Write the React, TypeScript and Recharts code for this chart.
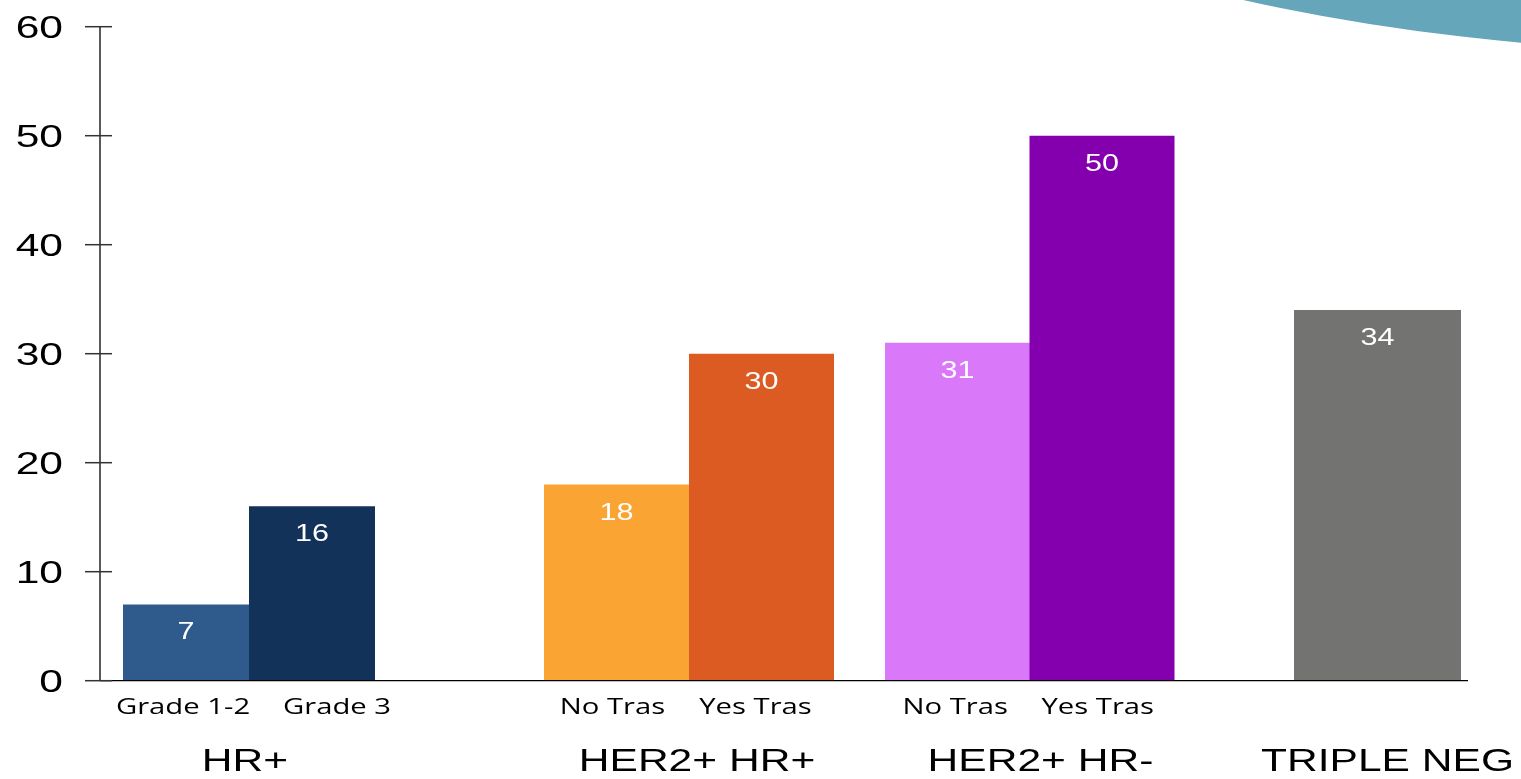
import React from "react";
import { BarChart, Bar, XAxis, YAxis, Cell, LabelList } from "recharts";

// Tumour subtype groups and the bars within each group
const groups = ["HR+", "HER2+ HR+", "HER2+ HR-", "TRIPLE NEG"];

const hrLabels = ["Grade 1-2", "Grade 3"];
const hrValues = [7, 16];

const her2HrPosLabels = ["No Tras", "Yes Tras"];
const her2HrPosValues = [18, 30];

const her2HrNegLabels = ["No Tras", "Yes Tras"];
const her2HrNegValues = [31, 50];

const tripleNegLabels = [""];
const tripleNegValues = [34];

const yTicks = [0, 10, 20, 30, 40, 50, 60];

const hrColors = ["#2E5A8C", "#12325A"];
const her2HrPosColors = ["#FAA533", "#DC5B22"];
const her2HrNegColors = ["#DA78FA", "#8400AE"];
const tripleNegColors = ["#737372"];

const ARIAL = "'Liberation Sans', Arial, sans-serif";
const SANS = "'Open Sans', 'Noto Sans', sans-serif";
const STRETCH = 1.33;

const CHART_HEIGHT = 763;
const MARGIN = { top: 18.7, right: 0, bottom: 0, left: 0 };

const toRows = (labels: string[], values: number[], group: string) =>
  labels.map((name, i) => ({ name, value: values[i], group }));

const YTick = (props: any) => {
  const { x, y, payload } = props;
  return (
    <g>
      <line x1={x + 22} x2={x + 49} y1={y} y2={y} stroke="#333" strokeWidth={1.5} />
      <text
        transform={`translate(${x},${y}) scale(${STRETCH},1)`}
        textAnchor="end"
        dominantBaseline="central"
        fontFamily={ARIAL}
        fontSize={32}
        fill="#000"
      >
        {payload.value}
      </text>
    </g>
  );
};

const SubTick = (props: any) => {
  const { x, y, payload, index, shifts } = props;
  const dx = shifts ? shifts[index] || 0 : 0;
  return (
    <text
      transform={`translate(${x + dx},${y + 33}) scale(${STRETCH},1)`}
      textAnchor="middle"
      fontFamily={SANS}
      fontSize={22}
      fill="#000"
    >
      {payload.value}
    </text>
  );
};

const GroupTick = (props: any) => {
  const { x, y, payload, shift } = props;
  return (
    <text
      transform={`translate(${x + (shift || 0)},${y + 50}) scale(${STRETCH},1)`}
      textAnchor="middle"
      fontFamily={ARIAL}
      fontSize={32}
      fill="#000"
    >
      {payload.value}
    </text>
  );
};

const ValueLabel = (props: any) => {
  const { x, y, width, value } = props;
  return (
    <text
      transform={`translate(${x + width / 2},${y + 35}) scale(${STRETCH},1)`}
      textAnchor="middle"
      fontFamily={ARIAL}
      fontSize={23}
      fill="#fff"
    >
      {value}
    </text>
  );
};

type GroupProps = {
  rows: { name: string; value: number; group: string }[];
  colors: string[];
  left: number;
  width: number;
  padding: { left: number; right: number };
  labelShifts?: number[];
  groupShift?: number;
  showY?: boolean;
};

function GroupChart({
  rows,
  colors,
  left,
  width,
  padding,
  labelShifts,
  groupShift,
  showY,
}: GroupProps) {
  return (
    <div style={{ position: "absolute", left, top: 0 }}>
      <BarChart
        width={width}
        height={CHART_HEIGHT}
        data={rows}
        margin={MARGIN}
        barCategoryGap={0}
        barGap={0}
      >
        <YAxis
          hide={!showY}
          width={92}
          domain={[0, 60]}
          ticks={yTicks}
          interval={0}
          tickSize={15}
          tickMargin={22}
          tickLine={false}
          axisLine={{ stroke: "#222", strokeWidth: 1.5 }}
          tick={<YTick />}
        />
        <XAxis
          dataKey="name"
          height={40}
          padding={padding}
          tickSize={0}
          tickMargin={0}
          tickLine={false}
          axisLine={{ stroke: "#000", strokeWidth: 1.2 }}
          interval={0}
          tick={<SubTick shifts={labelShifts} />}
        />
        <XAxis
          xAxisId="grp"
          dataKey="group"
          allowDuplicatedCategory={false}
          height={50.3}
          padding={padding}
          tickSize={0}
          tickMargin={0}
          tickLine={false}
          axisLine={false}
          interval={0}
          tick={<GroupTick shift={groupShift} />}
        />
        <Bar dataKey="value" isAnimationActive={false}>
          {rows.map((r, i) => (
            <Cell key={r.name + i} fill={colors[i]} />
          ))}
          <LabelList dataKey="value" content={<ValueLabel />} />
        </Bar>
      </BarChart>
    </div>
  );
}

export default function App() {
  const hrRows = toRows(hrLabels, hrValues, groups[0]);
  const posRows = toRows(her2HrPosLabels, her2HrPosValues, groups[1]);
  const negRows = toRows(her2HrNegLabels, her2HrNegValues, groups[2]);
  const tnRows = toRows(tripleNegLabels, tripleNegValues, groups[3]);

  return (
    <div style={{ position: "relative", width: 1505, height: CHART_HEIGHT }}>
      <style>{`.recharts-surface { overflow: visible; } .recharts-wrapper { overflow: visible; }`}</style>
      {/* teal swoosh in the top-right corner of the slide */}
      <svg
        width={1521}
        height={779}
        style={{ position: "fixed", left: 0, top: 0, pointerEvents: "none", overflow: "hidden" }}
      >
        <ellipse cx={1752} cy={-328} rx={1000} ry={381} fill="#65A6BA" />
      </svg>
      <GroupChart
        rows={hrRows}
        colors={hrColors}
        left={0}
        width={452}
        padding={{ left: 23, right: 85 }}
        labelShifts={[-3, 25]}
        groupShift={-4}
        showY
      />
      <GroupChart
        rows={posRows}
        colors={her2HrPosColors}
        left={452}
        width={400}
        padding={{ left: 84, right: 26 }}
        labelShifts={[-4, -6]}
        groupShift={8}
      />
      <GroupChart
        rows={negRows}
        colors={her2HrNegColors}
        left={852}
        width={374}
        padding={{ left: 25, right: 60 }}
        labelShifts={[-2, -4]}
        groupShift={11}
      />
      <GroupChart
        rows={tnRows}
        colors={tripleNegColors}
        left={1226}
        width={234}
        padding={{ left: 60, right: 7 }}
        groupShift={10}
      />
    </div>
  );
}
